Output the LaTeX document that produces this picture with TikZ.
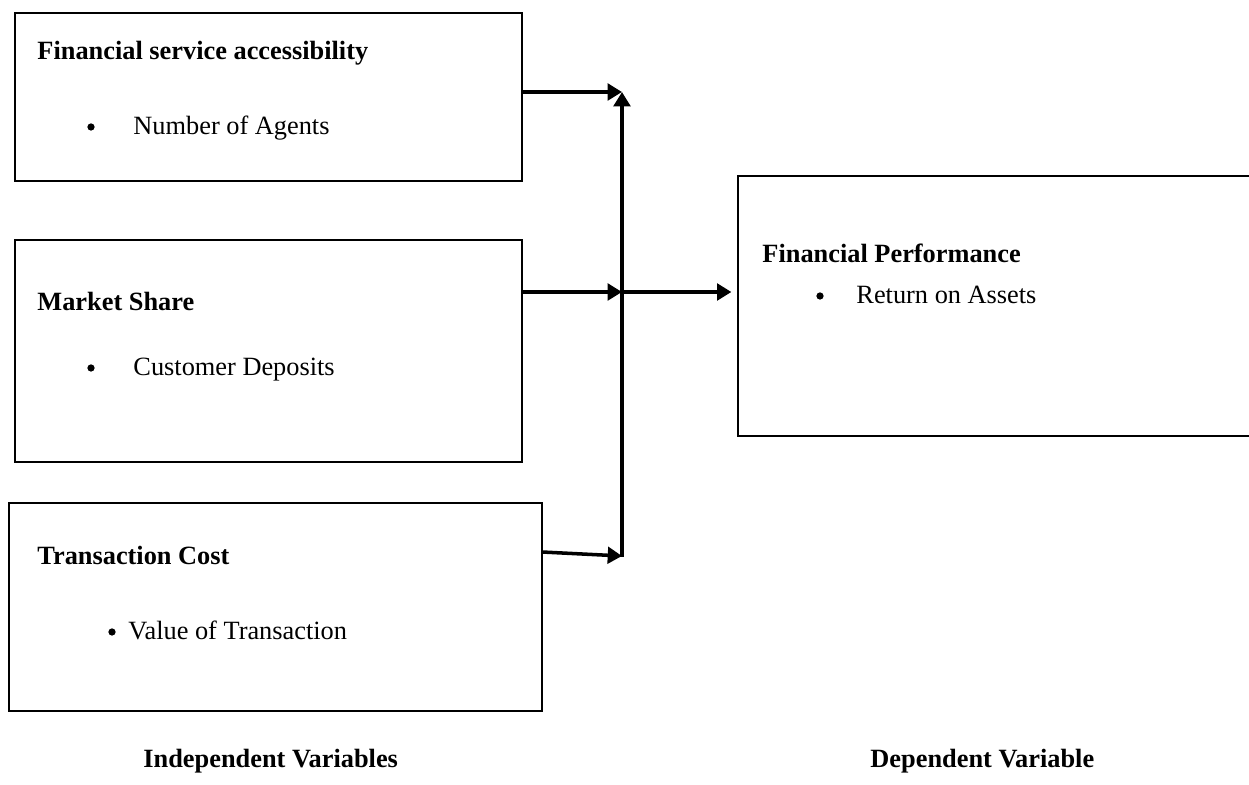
\documentclass[tikz,border=0pt]{standalone}
\usepackage{fontspec}
\setmainfont{Liberation Serif}
\usetikzlibrary{arrows.meta,fit}
\begin{document}
\begin{tikzpicture}[x=0.016cm,y=-0.016cm,
  box/.style={draw,line width=1pt,inner sep=0pt},
  txt/.style={inner sep=0pt,anchor=base west,font=\fontsize{12}{14}\selectfont},
  head/.style={txt,font=\fontsize{12}{14}\selectfont\bfseries},
  dot/.style={circle,fill,inner sep=0pt,minimum size=3.3pt},
  conn/.style={line width=1.6pt,-{Triangle[length=6.5pt,width=7.5pt]}}]
\useasboundingbox (0,0) rectangle (1249,785);

\node[box,fit={(15,13) (522,181)}] (box1) {};
\node[box,fit={(15,240) (522,462)}] (box2) {};
\node[box,fit={(9,503) (542,711)}] (box3) {};
\node[box,fit={(738,176) (1270,436)}] (box4) {};

\node[head] (access) at (37,60) {Financial service accessibility};
\node[dot] (bul1) at (91,127) {};
\node[txt] (agents) at (133,135) {Number of Agents};

\node[head] (share) at (37,311) {Market Share};
\node[dot] (bul2) at (91,368) {};
\node[txt] (deposits) at (133,376) {Customer Deposits};

\node[head] (cost) at (37,565) {Transaction Cost};
\node[dot] (bul3) at (112,632) {};
\node[txt] (value) at (128,640) {Value of Transaction};

\node[head] (perf) at (762,263) {Financial Performance};
\node[dot] (bul4) at (820,296) {};
\node[txt] (roa) at (856,304) {Return on Assets};

\node[head] (indep) at (143,768) {Independent Variables};
\node[head] (dep) at (870,768) {Dependent Variable};

\coordinate (top) at (622,92);
\coordinate (mid) at (622,292);
\coordinate (low) at (622,556);
\coordinate (base) at (622,557);
\coordinate (c3) at (542,552);

\draw[conn] (box1.east |- top) -- (top);
\draw[conn] (box2.east |- mid) -- (mid);
\draw[conn] (c3) -- (low);
\draw[conn,line width=2.2pt] (base) -- (top);
\draw[conn,shorten >=2.5pt] (mid) -- (box4.west |- mid);
\end{tikzpicture}
\end{document}
